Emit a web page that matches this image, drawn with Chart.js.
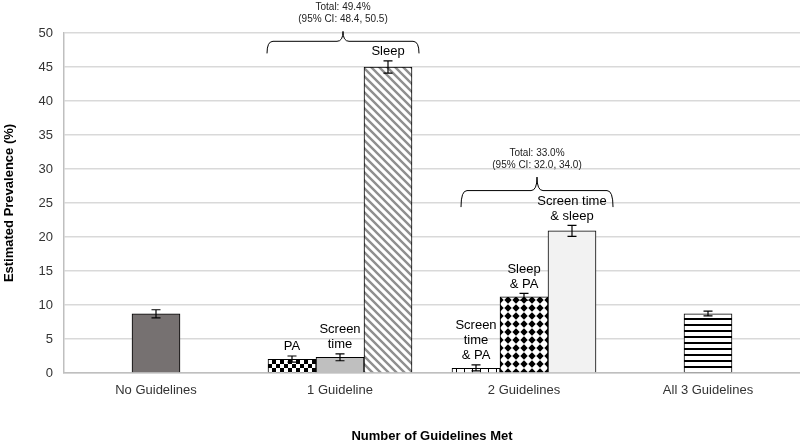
<!DOCTYPE html>
<html>
<head>
<meta charset="utf-8">
<script src="https://cdn.jsdelivr.net/npm/chart.js@4"></script>
<style>
  html, body { margin: 0; padding: 0; background: #fff; }
  #wrap { width: 800px; height: 441px; }
</style>
</head>
<body>
<div id="wrap"><canvas id="chart"></canvas></div>
<script>
// Categories and values (estimated prevalence, %)
const categories = ['No Guidelines', '1 Guideline', '2 Guidelines', 'All 3 Guidelines'];

// first bar in each group
const slot1 = [8.7, 2.0, 0.7, 8.7];
const slot1Lo = [8.1, 1.6, 0.3, 8.4];
const slot1Hi = [9.3, 2.5, 1.2, 9.1];
const slot1Labels = ['', 'PA', 'Screen\ntime\n& PA', ''];

// second bar
const slot2 = [null, 2.3, 11.2, null];
const slot2Lo = [null, 1.8, 10.7, null];
const slot2Hi = [null, 2.8, 11.7, null];
const slot2Labels = ['', 'Screen\ntime', 'Sleep\n& PA', ''];

// third bar
const slot3 = [null, 45.0, 20.9, null];
const slot3Lo = [null, 44.1, 20.1, null];
const slot3Hi = [null, 45.9, 21.7, null];
const slot3Labels = ['', 'Sleep', 'Screen time\n& sleep', ''];

// group totals shown over the braces
const totalText = [null, 'Total: 49.4%', 'Total: 33.0%', null];
const totalCI = [null, '(95% CI: 48.4, 50.5)', '(95% CI: 32.0, 34.0)', null];

const yTicks = [0, 5, 10, 15, 20, 25, 30, 35, 40, 45, 50];

// ---- fill patterns ----
function tile(w, h, draw) {
    const c = document.createElement('canvas');
    c.width = w; c.height = h;
    const g = c.getContext('2d');
    g.fillStyle = '#fff';
    g.fillRect(0, 0, w, h);
    draw(g);
    return document.createElement('canvas').getContext('2d').createPattern(c, 'repeat');
}

const checker = tile(8, 8, g => {
    g.fillStyle = '#000';
    g.fillRect(0, 0, 4, 4);
    g.fillRect(4, 4, 4, 4);
});

const diagonal = tile(8, 8, g => {
    g.strokeStyle = '#8f8f8f';
    g.lineWidth = 2.4;
    g.beginPath();
    g.moveTo(-2, -2); g.lineTo(10, 10);
    g.moveTo(-6, 2); g.lineTo(2, 10);
    g.moveTo(6, -2); g.lineTo(10, 2);
    g.stroke();
});

const verticals = tile(8, 8, g => {
    g.fillStyle = '#000';
    g.fillRect(0, 0, 1, 8);
});

const diamonds = tile(8, 8, g => {
    g.fillStyle = '#000';
    g.beginPath();
    g.moveTo(4, 0.3); g.lineTo(7.7, 4); g.lineTo(4, 7.7); g.lineTo(0.3, 4);
    g.closePath();
    g.fill();
});

const hstripes = tile(8, 6, g => {
    g.fillStyle = '#000';
    g.fillRect(0, 0, 8, 2);
});

// ---- error bars, bar labels, braces, axis titles ----
const extras = {
    id: 'extras',
    afterDatasetsDraw(chart) {
        const ctx = chart.ctx;
        const y = chart.scales.y;
        const sets = [
            [slot1Lo, slot1Hi, slot1Labels],
            [slot2Lo, slot2Hi, slot2Labels],
            [slot3Lo, slot3Hi, slot3Labels]
        ];
        ctx.save();
        sets.forEach((s, i) => {
            const meta = chart.getDatasetMeta(i);
            meta.data.forEach((bar, j) => {
                if (s[0][j] == null) return;
                const x = bar.x;
                const yl = y.getPixelForValue(s[0][j]);
                const yh = y.getPixelForValue(s[1][j]);
                ctx.strokeStyle = '#000';
                ctx.lineWidth = 1.2;
                ctx.beginPath();
                ctx.moveTo(x, yl); ctx.lineTo(x, yh);
                ctx.moveTo(x - 4.5, yl); ctx.lineTo(x + 4.5, yl);
                ctx.moveTo(x - 4.5, yh); ctx.lineTo(x + 4.5, yh);
                ctx.stroke();

                if (s[2][j]) {
                    const lines = s[2][j].split('\n');
                    ctx.fillStyle = '#000';
                    ctx.font = '13px "Liberation Sans", Arial, sans-serif';
                    ctx.textAlign = 'center';
                    ctx.textBaseline = 'bottom';
                    lines.forEach((t, k) => {
                        ctx.fillText(t, x, yh - 3 - (lines.length - 1 - k) * 15);
                    });
                }
            });
        });
        ctx.restore();
    },
    afterDraw(chart) {
        const ctx = chart.ctx;
        const xs = chart.scales.x;
        const y = chart.scales.y;
        const area = chart.chartArea;
        // brace layout: [center offset px, bottom value, height px]
        const braceLayout = [null, [3, 47.0, 22], [13, 24.4, 30]];
        ctx.save();
        totalText.forEach((t, j) => {
            if (!t) return;
            const [dx, v, h] = braceLayout[j];
            const xm = xs.getPixelForValue(j) + dx;
            const x0 = xm - 76, x1 = xm + 76;
            const yb = y.getPixelForValue(v);
            const yt = yb - h * 0.55;
            const ytip = yb - h;
            const r = 6;
            ctx.strokeStyle = '#000';
            ctx.lineWidth = 1;
            ctx.beginPath();
            ctx.moveTo(x0, yb);
            ctx.quadraticCurveTo(x0, yt, x0 + r, yt);
            ctx.lineTo(xm - r, yt);
            ctx.quadraticCurveTo(xm, yt, xm, ytip);
            ctx.quadraticCurveTo(xm, yt, xm + r, yt);
            ctx.lineTo(x1 - r, yt);
            ctx.quadraticCurveTo(x1, yt, x1, yb);
            ctx.stroke();

            ctx.fillStyle = '#222';
            ctx.font = '10px "Liberation Sans", Arial, sans-serif';
            ctx.textAlign = 'center';
            ctx.textBaseline = 'middle';
            ctx.fillText(totalCI[j], xm, ytip - 12);
            ctx.fillText(t, xm, ytip - 24);
        });

        ctx.fillStyle = '#000';
        ctx.font = 'bold 13px "Liberation Sans", Arial, sans-serif';
        ctx.textAlign = 'center';
        ctx.textBaseline = 'middle';
        ctx.fillText('Number of Guidelines Met', (area.left + area.right) / 2, 436);
        ctx.translate(9, (area.top + area.bottom) / 2);
        ctx.rotate(-Math.PI / 2);
        ctx.fillText('Estimated Prevalence (%)', 0, 0);
        ctx.restore();
    }
};

const common = {
    borderColor: '#000',
    borderWidth: 1,
    barThickness: 48,
    skipNull: true
};

new Chart(document.getElementById('chart'), {
    type: 'bar',
    data: {
        labels: categories,
        datasets: [
            Object.assign({ label: 'first', data: slot1,
                backgroundColor: ['#767171', checker, verticals, hstripes] }, common),
            Object.assign({ label: 'second', data: slot2,
                backgroundColor: [null, '#bfbfbf', diamonds, null] }, common),
            Object.assign({ label: 'third', data: slot3,
                backgroundColor: [null, diagonal, '#f2f2f2', null] }, common)
        ]
    },
    options: {
        responsive: true,
        maintainAspectRatio: false,
        animation: false,
        layout: { padding: { top: 33, left: 0, right: 0, bottom: 0 } },
        plugins: {
            legend: { display: false },
            tooltip: { enabled: false }
        },
        scales: {
            x: {
                grid: { display: false, drawTicks: false },
                border: { color: '#bfbfbf', width: 1.5 },
                ticks: {
                    color: '#333',
                    padding: 10,
                    font: { family: '"Liberation Sans", Arial, sans-serif', size: 13 }
                },
                afterFit(scale) { scale.height = 68; }
            },
            y: {
                min: 0,
                max: 50,
                afterBuildTicks(scale) { scale.ticks = yTicks.map(v => ({ value: v })); },
                grid: { color: '#d9d9d9', lineWidth: 1.5, drawTicks: false },
                border: { color: '#bfbfbf', width: 1.5 },
                ticks: {
                    color: '#333',
                    padding: 11,
                    font: { family: '"Liberation Sans", Arial, sans-serif', size: 13 }
                },
                afterFit(scale) { scale.width = 64; }
            }
        }
    },
    plugins: [extras]
});
</script>
</body>
</html>
